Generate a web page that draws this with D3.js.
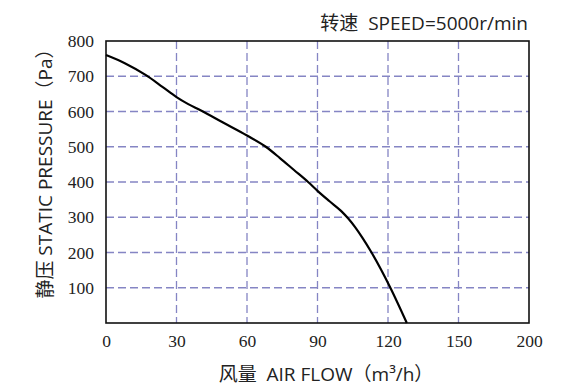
<!DOCTYPE html>
<html>
<head>
    <meta charset="utf-8">
    <style>
        body { margin: 0; background: #fff; }
    </style>
</head>
<body>
    <script src="https://cdn.jsdelivr.net/npm/d3@7"></script>
    <script>
        // x ticks are evenly spaced even though 150 -> 200 is a bigger step
        var xTicks = [0, 30, 60, 90, 120, 150, 200];
        var yTicks = [100, 200, 300, 400, 500, 600, 700, 800];
        var airFlow = [0, 8, 17, 24, 30, 35, 40, 50, 60, 68, 74, 80, 86, 90, 95, 100, 103, 106, 109, 113, 121, 128];
        var pressure = [760, 737, 703, 670, 641, 621, 604, 568, 532, 500, 468, 434, 400, 375, 346, 318, 297, 272, 243, 200, 100, 0];

        var width = 580, height = 390;
        var margin = { left: 106, top: 41, right: 51, bottom: 67 };
        var graphWidth = width - margin.left - margin.right;
        var graphHeight = height - margin.top - margin.bottom;

        var xScale = d3.scaleLinear()
            .domain(xTicks)
            .range(xTicks.map(function (d, i) { return i * graphWidth / (xTicks.length - 1); }));
        var yScale = d3.scaleLinear()
            .domain([0, 800])
            .range([graphHeight, 0]);

        var svg = d3.select('body').append('svg')
            .attr('width', width)
            .attr('height', height);

        var g = svg.append('g')
            .attr('transform', 'translate(' + margin.left + ',' + margin.top + ')');

        var gridColor = '#8585c4';

        // grid
        g.selectAll('.vgrid')
            .data(xTicks.slice(1, -1))
            .enter().append('line')
            .attr('x1', function (d) { return xScale(d); })
            .attr('x2', function (d) { return xScale(d); })
            .attr('y1', 0)
            .attr('y2', graphHeight)
            .attr('stroke', gridColor)
            .attr('stroke-width', 1.3)
            .attr('stroke-dasharray', '8,4');
        g.selectAll('.hgrid')
            .data(yTicks.slice(0, -1))
            .enter().append('line')
            .attr('x1', 0)
            .attr('x2', graphWidth)
            .attr('y1', function (d) { return yScale(d); })
            .attr('y2', function (d) { return yScale(d); })
            .attr('stroke', gridColor)
            .attr('stroke-width', 1.3)
            .attr('stroke-dasharray', '8,4');

        // frame
        g.append('rect')
            .attr('width', graphWidth)
            .attr('height', graphHeight)
            .attr('fill', 'none')
            .attr('stroke', '#111')
            .attr('stroke-width', 1.6);

        // axes (labels only)
        var serif = '"Liberation Serif", "DejaVu Serif", serif';
        var xAxis = d3.axisBottom(xScale).tickValues(xTicks).tickSize(0).tickPadding(12);
        var xAxisNodes = g.append('g')
            .attr('transform', 'translate(0,' + graphHeight + ')')
            .call(xAxis);
        var yAxis = d3.axisLeft(yScale).tickValues(yTicks).tickSize(0).tickPadding(12);
        var yAxisNodes = g.append('g').call(yAxis);
        [xAxisNodes, yAxisNodes].forEach(function (a) {
            a.select('.domain').remove();
            a.attr('font-family', null).attr('font-size', null);
            a.selectAll('text')
                .style('font-family', serif)
                .style('font-size', '17.5px')
                .attr('fill', '#222');
        });
        xAxisNodes.selectAll('text').attr('dy', '0.71em');

        // curve
        var data = airFlow.map(function (d, i) { return { x: d, y: pressure[i] }; });
        var line = d3.line()
            .x(function (d) { return xScale(d.x); })
            .y(function (d) { return yScale(d.y); })
            .curve(d3.curveMonotoneX);
        g.append('path')
            .datum(data)
            .attr('d', line)
            .attr('fill', 'none')
            .attr('stroke', '#000')
            .attr('stroke-width', 2.2);

        var sans = '"Open Sans", "Noto Sans CJK SC", sans-serif';

        svg.append('text')
            .attr('x', 528)
            .attr('y', 30)
            .attr('text-anchor', 'end')
            .style('font-family', sans)
            .style('font-size', '19px')
            .attr('fill', '#222')
            .text('转速\u00a0\u00a0SPEED=5000r/min');

        svg.append('text')
            .attr('x', 326)
            .attr('y', 381)
            .attr('text-anchor', 'middle')
            .style('font-family', sans)
            .style('font-size', '19px')
            .attr('fill', '#222')
            .text('风量\u00a0\u00a0AIR FLOW（m³/h）');

        svg.append('text')
            .attr('transform', 'translate(52,169) rotate(-90)')
            .attr('text-anchor', 'middle')
            .style('font-family', sans)
            .style('font-size', '19px')
            .attr('fill', '#222')
            .text('静压 STATIC PRESSURE（Pa）');
    </script>
</body>
</html>
